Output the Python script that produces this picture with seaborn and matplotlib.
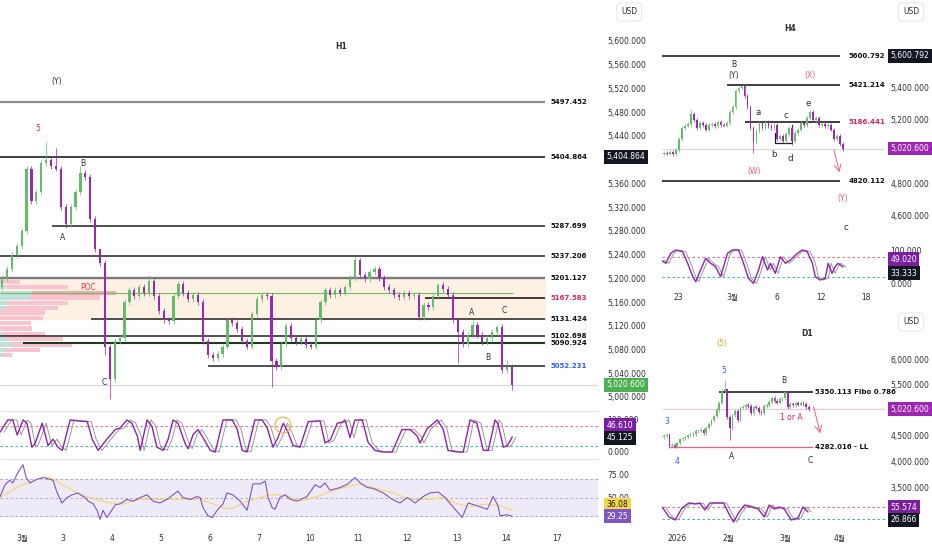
import numpy as np
import pandas as pd
import seaborn as sns
import matplotlib
matplotlib.use("Agg")
import matplotlib.pyplot as plt
from matplotlib.lines import Line2D

sns.set_theme(style="white")
plt.rcParams['font.family'] = ['DejaVu Sans', 'Noto Sans CJK KR']
plt.rcParams['axes.unicode_minus'] = False

# ---------------- data ----------------
# H1 closes (one candle per ~2 hours), first open
h1_open0 = 5185
h1_close = [5200, 5215, 5240, 5255, 5280, 5385, 5330, 5345, 5395, 5400,
            5390, 5385, 5320, 5292, 5320, 5345, 5378, 5370, 5300, 5250,
            5225, 5085, 5030, 5095, 5100, 5160, 5180, 5170, 5185, 5175,
            5195, 5170, 5145, 5130, 5128, 5170, 5190, 5175, 5165, 5172,
            5160, 5095, 5070, 5065, 5072, 5085, 5130, 5125, 5115, 5095,
            5085, 5140, 5165, 5172, 5170, 5060, 5050, 5090, 5120, 5100,
            5092, 5098, 5088, 5085, 5130, 5160, 5180, 5172, 5180, 5175,
            5185, 5200, 5230, 5205, 5198, 5210, 5215, 5200, 5185, 5180,
            5172, 5168, 5176, 5170, 5172, 5135, 5155, 5152, 5170, 5188,
            5182, 5172, 5130, 5110, 5090, 5105, 5122, 5105, 5092, 5100,
            5110, 5118, 5045, 5050, 5020.6]
h1_high = {9: 5430, 11: 5420, 16: 5390, 20: 5232, 30: 5205, 72: 5238, 89: 5192,
           96: 5130, 101: 5122, 103: 5062}
h1_low = {13: 5284, 21: 5070, 22: 4996, 55: 5017, 93: 5057, 104: 5012}
h1_days = ['3월', '3', '4', '5', '6', '7', '10', '11', '12', '13', '14', '17']

h1_levels = [5497.452, 5404.864, 5287.699, 5237.206, 5201.127, 5167.583,
             5131.424, 5102.698, 5090.924, 5052.231]
poc_price = 5175
last_price = 5020.6

# volume profile rows (price, total volume, up volume)
vp_price = [5194, 5185, 5175, 5168, 5158, 5150, 5142, 5133, 5125, 5115,
            5106, 5098, 5088, 5079, 5071]
vp_vol = [20, 68, 116, 100, 68, 58, 45, 43, 31, 32, 45, 63, 72, 40, 12]
vp_up = [0, 5, 32, 30, 8, 5, 0, 0, 0, 0, 3, 6, 12, 4, 2]

# H1 stochastic %K (time in candle units)
stoch_t = [-0.4, 1.2, 2.2, 3.1, 4.3, 5.1, 6.1, 6.7, 8.2, 9.4, 10.4, 11.4, 12.3,
           13.9, 15.5, 17.4, 18.4, 19.6, 21.4, 23.1, 24.1, 25.5, 26.5, 27.6,
           28.2, 29.6, 30.6, 31.6, 32.9, 33.9, 34.9, 35.9, 37.4, 38.0, 39.0,
           40.0, 41.0, 42.5, 43.5, 45.1, 47.0, 48.0, 49.0, 50.0, 51.6, 53.1,
           54.1, 55.3, 56.3, 57.4, 58.4, 59.4, 60.8, 62.5, 64.9, 65.9, 67.0,
           68.4, 69.4, 70.0, 71.0, 72.0, 73.5, 74.7, 76.1, 77.6, 79.6, 81.6,
           83.3, 84.7, 85.3, 86.7, 88.8, 90.0, 91.0, 92.9, 94.1, 95.5, 96.9,
           98.2, 99.2, 100.6, 101.2, 102.3, 103.1, 104.1]
stoch_k = [62, 100, 100, 53, 100, 90, 15, 25, 90, 20, 40, 15, 5,
           100, 97, 95, 40, 5, 40, 70, 75, 100, 90, 50,
           5, 100, 80, 15, 5, 40, 100, 90, 25, 10, 55,
           70, 45, 5, 0, 100, 100, 70, 5, 0, 100, 100,
           75, 15, 45, 90, 60, 20, 15, 95, 97, 28, 38,
           90, 93, 100, 45, 100, 100, 30, 5, 0, 0, 70,
           70, 50, 28, 72, 100, 72, 5, 0, 0, 100, 90,
           5, 5, 100, 88, 15, 20, 46.61]

# H1 RSI and its moving average
rsi_t = [-0.4, 0.6, 1.6, 2.2, 3.3, 4.3, 4.9, 5.7, 7.1, 8.4, 10.4, 11.2, 12.2,
         13.3, 14.3, 15.5, 16.9, 17.6, 18.6, 19.4, 20.0, 20.6, 21.4, 22.4,
         23.1, 24.1, 25.5, 26.7, 28.2, 29.6, 30.8, 32.2, 33.7, 34.9, 35.9,
         36.9, 38.4, 39.8, 40.4, 41.0, 42.0, 42.9, 43.9, 45.1, 45.9, 47.1,
         48.6, 50.0, 51.2, 52.7, 53.7, 54.3, 55.1, 55.7, 56.7, 57.8, 58.8,
         60.2, 62.2, 63.9, 64.9, 65.9, 66.9, 69.0, 70.6, 72.0, 73.1, 74.5,
         75.7, 77.8, 79.6, 81.2, 82.7, 84.3, 85.9, 87.3, 89.0, 90.4, 91.8,
         93.9, 95.1, 96.9, 99.0, 100.2, 101.2, 101.6, 103.1, 104.1]
rsi_v = [51, 64, 69, 66, 78, 86, 72, 66, 70, 72, 69, 56, 44,
         50, 53, 55, 50, 46, 43, 36, 26, 36, 28, 36,
         42, 43, 48, 46, 50, 53, 46, 44, 48, 53, 57,
         50, 48, 51, 50, 39, 30, 28, 36, 43, 55, 53,
         46, 36, 65, 65, 68, 50, 39, 37, 50, 53, 48,
         46, 51, 64, 61, 66, 58, 61, 65, 72, 66, 61,
         60, 55, 48, 44, 50, 44, 51, 55, 56, 50, 41,
         28, 44, 41, 37, 51, 41, 30, 31, 29.25]
rsi_ma_t = [-0.4, 3.7, 8.4, 9.8, 15.9, 22.0, 24.7, 28.2, 40.4, 43.1, 45.5, 47.1,
            50.0, 54.7, 56.7, 58.8, 60.8, 64.9, 66.9, 69.6, 73.1, 75.7, 79.8,
            83.3, 87.3, 90.0, 92.9, 95.5, 99.0, 101.6, 104.1]
rsi_ma_v = [50, 63, 72, 72, 53, 44, 43, 48, 48, 43, 38, 38,
            46, 53, 53, 50, 46, 52, 56, 61, 65, 61, 55,
            48, 48, 50, 43, 40, 43, 41, 36.08]

# H4
h4_open0 = 4990
h4_close = [4995, 4990, 5000, 4985, 5010, 5080, 5150, 5165, 5175, 5240,
            5200, 5150, 5180, 5170, 5140, 5170, 5175, 5160, 5190, 5170,
            5165, 5180, 5250, 5280, 5380, 5400, 5410, 5350, 5280, 5150,
            5060, 5130, 5180, 5150, 5190, 5160, 5150, 5170, 5080, 5100,
            5070, 5110, 5150, 5070, 5120, 5140, 5180, 5170, 5210, 5250,
            5200, 5210, 5170, 5175, 5160, 5170, 5140, 5080, 5100, 5050,
            5020.6]
h4_high = {9: 5262, 25: 5415, 26: 5421, 49: 5262}
h4_low = {30: 4995, 43: 5045}
h4_days = ['23', '3월', '6', '12', '18']
h4_levels = [5600.792, 5421.214, 5186.441, 4820.112]
h4_stoch_t = [-1, 0.7, 2.3, 4, 6.3, 8, 9.7, 10.7, 12.3, 14, 15.7, 17.3, 19,
              21.3, 23, 25, 26.7, 28.3, 30, 31.7, 33, 34.7, 35.7, 37.3, 39,
              40.7, 42.3, 44.7, 46.3, 48, 49.7, 50.7, 52.3, 54, 55, 56.3, 57.3,
              58.3, 60]
h4_stoch_k = [70, 60, 90, 100, 95, 60, 20, 5, 40, 75, 60, 50, 20,
              90, 100, 100, 60, 15, 0, 40, 80, 40, 60, 30, 80,
              60, 70, 90, 100, 95, 60, 20, 10, 15, 60, 30, 50,
              60, 49.02]

# D1
d1_open0 = 4480
d1_close = [4500, 4520, 4300, 4320, 4290, 4350, 4430, 4450, 4470, 4510,
            4540, 4530, 4590, 4600, 4610, 4560, 4660, 4730, 4800, 4880,
            5000, 5150, 5380, 5410, 4870, 4650, 4900, 4980, 4800, 5050,
            5060, 5100, 5080, 4950, 5060, 5050, 4960, 4950, 5080, 5100,
            5170, 5240, 5180, 5150, 5220, 5230, 5350, 5060, 5120, 5100,
            5140, 5110, 5150, 5120, 5060, 5020.6]
d1_high = {23: 5590, 24: 5420, 46: 5400}
d1_low = {3: 4280, 4: 4270, 25: 4420}
d1_months = ['2026', '2월', '3월', '4월']
d1_levels = [5350.113, 4282.016]
d1_stoch_t = [-0.75, 1.9, 4.2, 6.8, 9.4, 11.8, 13.6, 15.5, 17.4, 20.8, 22.6,
              24.5, 26.4, 28.3, 30.6, 33.2, 35.8, 38.1, 40, 41.9, 43.8, 45.7,
              48.3, 50.9, 52.8, 54.7]
d1_stoch_k = [80, 30, 15, 75, 100, 95, 100, 65, 100, 100, 100,
              50, 5, 50, 90, 80, 70, 30, 90, 70, 80, 70,
              15, 25, 80, 55.57]

# ---------------- styling ----------------
UP, DOWN = '#66bb6a', '#9c27b0'
FS = 5.5
TXT = '#2a2e39'
W, H = 932, 550
fig = plt.figure(figsize=(W / 100, H / 100), dpi=100)
fig.patch.set_facecolor('white')


def add_ax(x0, y0, x1, y1):
    a = fig.add_axes([x0 / W, 1 - y1 / H, (x1 - x0) / W, (y1 - y0) / H])
    for s in a.spines.values():
        s.set_visible(False)
    a.set_facecolor('none')
    a.yaxis.tick_right()
    a.tick_params(axis='both', length=0, labelsize=FS, colors=TXT)
    a.set_xticks([])
    return a


def candles(ax, closes, open0, hi, lo, width, wick):
    c = np.array(closes, float)
    o = np.r_[open0, c[:-1]]
    x = np.arange(len(c))
    top = np.maximum(o, c)
    bot = np.minimum(o, c)
    highs = top + wick
    lows = bot - wick
    for i, v in hi.items():
        highs[i] = v
    for i, v in lo.items():
        lows[i] = v
    cols = np.where(c >= o, UP, DOWN)
    ax.vlines(x, lows, highs, colors=cols, lw=0.5, zorder=3)
    ax.bar(x, np.maximum(top - bot, wick * 0.3), bottom=bot, width=width,
           color=cols, linewidth=0, zorder=3)


def tag(ax, y, text, fc, tc='white', dx=6.3):
    ax.annotate(text, xy=(1, y), xycoords=ax.get_yaxis_transform(),
                xytext=(dx, 0), textcoords='offset points', va='center', ha='left',
                fontsize=FS, color=tc, annotation_clip=False, zorder=10,
                bbox=dict(boxstyle='square,pad=0.3', fc=fc, ec='none'))


def stoch_panel(ax, t, k, lag):
    ax.axhline(80, color='#f7525f', lw=0.6, ls=(0, (3, 3)))
    ax.axhline(20, color='#22ab94', lw=0.6, ls=(0, (3, 3)))
    sns.lineplot(x=np.array(t) + lag, y=k, ax=ax, color='#9a9a9a', lw=0.7,
                 estimator=None, sort=False)
    sns.lineplot(x=t, y=k, ax=ax, color='#8e24aa', lw=1.0, estimator=None, sort=False)
    ax.set_xlabel('')
    ax.set_ylabel('')


def usd(x, y):
    fig.text(x / W, 1 - y / H, 'USD', ha='center', va='center', fontsize=FS, color=TXT,
             bbox=dict(boxstyle='round,pad=0.6', fc='white', ec='#e0e3eb', lw=0.6))


def sep(y, x0, x1):
    fig.add_artist(Line2D([x0 / W, x1 / W], [1 - y / H, 1 - y / H], color='#e0e3eb', lw=0.8))


# ================= H1 main panel =================
ax_p = add_ax(0, 0, 598, 410)
ax_s = add_ax(0, 411, 598, 458)
ax_r = add_ax(0, 459, 598, 524)
h1_xlim = (-0.41, 121.6)
for a in (ax_p, ax_s, ax_r):
    a.set_xlim(*h1_xlim)
    a.yaxis.set_tick_params(pad=6.5)
ax_p.set_ylim(4978, 5669)
ax_s.set_ylim(-18.75, 128)
ax_r.set_ylim(20.9, 92.3)

# shaded zone and volume profile
ax_p.fill_between([-0.41, 110.8], h1_levels[6], h1_levels[4], color='#fdf1e3', zorder=0)
vp_scale = 1 / 4.9
ax_p.barh(vp_price, np.array(vp_vol) * vp_scale, left=-0.41, height=7.6,
          color='#f8c4cf', linewidth=0, zorder=1)
ax_p.barh(vp_price[2], vp_vol[2] * vp_scale, left=-0.41, height=7.6,
          color='#f4a9b4', linewidth=0, zorder=1)
ax_p.barh(vp_price, np.array(vp_up) * vp_scale, left=-0.41, height=7.6,
          color='#bfe3dc', linewidth=0, zorder=1)

line_start = [-0.41, -0.41, 10.2, -0.41, -0.41, 86.3, 18.2, -0.41, 4.3, 42.0]
line_col = ['#8c8c8c', '#303030', '#202020', '#202020', '#7a7a7a', '#303030',
            '#202020', '#202020', '#1e3b1e', '#202020']
line_lw = [1.6, 1.3, 1.1, 1.1, 1.7, 1.3, 1.1, 1.1, 1.5, 1.1]
lab_col = ['#111111'] * 5 + ['#e0245e'] + ['#111111'] * 3 + ['#2962ff']
ax_p.hlines(last_price, *h1_xlim, color='#d6d8de', lw=0.8, zorder=2)
ax_p.hlines(poc_price, -0.41, 104.3, color='#6fbf5f', lw=0.8, zorder=2)
for lv, x0, c, lw, lc in zip(h1_levels, line_start, line_col, line_lw, lab_col):
    ax_p.hlines(lv, x0, 110.8, color=c, lw=lw, zorder=2)
    ax_p.text(111.9, lv, f'{lv:.3f}', fontsize=5, fontweight='bold', color=lc,
              va='center', ha='left')

candles(ax_p, h1_close, h1_open0, h1_high, h1_low, 0.45, 5)

main_ticks = [v for v in range(5000, 5601, 40) if v != 5400]
ax_p.set_yticks(main_ticks)
ax_p.set_yticklabels([f'{v:,.3f}' for v in main_ticks])
tag(ax_p, 5404.864, '5,404.864', '#131722')
tag(ax_p, last_price, '5,020.600', '#4caf50')

for tx, x, y, c in [('H1', 69.2, 5591, TXT), ('(Y)', 11.2, 5532, TXT), ('5', 7.3, 5453, '#e53935'),
                    ('B', 16.5, 5394, TXT), ('A', 12.4, 5268, TXT), ('POC', 17.6, 5184, '#e53950'),
                    ('C', 20.8, 5024, TXT), ('A', 95.9, 5142, TXT), ('C', 102.4, 5145, TXT),
                    ('B', 99.2, 5067, TXT)]:
    ax_p.text(x, y, tx, fontsize=FS, color=c, ha='center', va='center',
              fontweight='bold' if tx == 'H1' else 'normal', zorder=6)

# stochastic
stoch_panel(ax_s, stoch_t, stoch_k, 0.8)
ax_s.scatter([57.3], [84], s=130, facecolors='none', edgecolors='#f5b041', lw=0.8, zorder=5)
ax_s.set_yticks([0, 100])
ax_s.set_yticklabels(['0.000', '100.000'])
tag(ax_s, 84, '46.610', '#7b1fa2')
tag(ax_s, 44, '45.125', '#131722')

# RSI
ax_r.axhspan(30, 70, color='#efeaf8', zorder=0)
for lv in (30, 50, 70):
    ax_r.axhline(lv, color='#a0a3ad', lw=0.6, ls=(0, (3, 3)))
sns.lineplot(x=rsi_ma_t, y=rsi_ma_v, ax=ax_r, color='#f5d77a', lw=0.9, estimator=None, sort=False)
sns.lineplot(x=rsi_t, y=rsi_v, ax=ax_r, color='#7e57c2', lw=0.8, estimator=None, sort=False)
ax_r.set_xlabel('')
ax_r.set_ylabel('')
ax_r.set_yticks([50, 75])
ax_r.set_yticklabels(['50.00', '75.00'])
tag(ax_r, 42.5, '36.08', '#f7d64a', tc='#131722')
tag(ax_r, 29.5, '29.25', '#7e57c2')
h1_tick_pos = [4.1, 12.4, 22.4, 32.4, 42.4, 52.4, 62.9, 72.7, 82.7, 92.9, 102.9, 113.3]
ax_r.set_xticks(h1_tick_pos)
ax_r.set_xticklabels(h1_days)
ax_r.tick_params(axis='x', pad=7, labelsize=FS, colors=TXT)
sep(411, 0, 598)
sep(458.5, 0, 598)
usd(629, 12)

# ================= H4 panel =================
ax_h = add_ax(662, 0, 885, 242)
ax_hs = add_ax(662, 243, 885, 289)
for a in (ax_h, ax_hs):
    a.set_xlim(-0.6, 74)
    a.yaxis.set_tick_params(pad=4)
ax_h.set_ylim(4437, 5950)
ax_hs.set_ylim(-17, 121)
ax_h.hlines(last_price, -0.6, 74, color='#d6d8de', lw=0.8)
h4_start = [-1, 21.3, 27.3, -1]
h4_lab = ['#111111', '#111111', '#e0245e', '#111111']
for lv, x0, lc in zip(h4_levels, h4_start, h4_lab):
    ax_h.hlines(lv, x0, 59, color='#202020', lw=1.2)
    ax_h.text(61.7, lv, f'{lv:.3f}', fontsize=5, fontweight='bold', color=lc, va='center')
ax_h.plot([37.3, 37.3, 43, 43], [5119, 5057, 5057, 5169], color='#202020', lw=0.9)
candles(ax_h, h4_close, h4_open0, h4_high, h4_low, 0.6, 12)
ax_h.annotate('', xy=(59, 4856), xytext=(56.7, 5031),
              arrowprops=dict(arrowstyle='->', color='#ef5f7f', lw=0.7))
for tx, x, y, c in [('H4', 42.3, 5769, TXT), ('B', 23.3, 5544, TXT), ('(Y)', 23.3, 5475, TXT),
                    ('(X)', 49, 5481, '#ef5f7f'), ('a', 31.7, 5244, TXT), ('c', 41, 5231, TXT),
                    ('e', 48.3, 5306, TXT), ('b', 36.7, 4981, TXT), ('d', 42.3, 4956, TXT),
                    ('(W)', 30.3, 4875, '#ef5f7f'), ('(Y)', 60, 4706, '#ef5f7f'),
                    ('c', 61, 4525, TXT)]:
    ax_h.text(x, y, tx, fontsize=FS + (0.8 if tx in 'abcde' else 0), color=c,
              ha='center', va='center', fontweight='bold' if tx == 'H4' else 'normal')
h4_ticks = [4600, 4800, 5200, 5400]
ax_h.set_yticks(h4_ticks)
ax_h.set_yticklabels([f'{v:,.3f}' for v in h4_ticks])
tag(ax_h, 5600.792, '5,600.792', '#131722', dx=4)
tag(ax_h, last_price, '5,020.600', '#9c27b0', dx=4)

stoch_panel(ax_hs, h4_stoch_t, h4_stoch_k, 1.0)
ax_hs.set_yticks([0, 100])
ax_hs.set_yticklabels(['0.000', '100.000'])
tag(ax_hs, 73, '49.020', '#7b1fa2', dx=4)
tag(ax_hs, 31, '33.333', '#131722', dx=4)
ax_hs.set_xticks([5, 23, 37.7, 52.7, 67.7])
ax_hs.set_xticklabels(h4_days)
ax_hs.tick_params(axis='x', pad=3, labelsize=FS, colors=TXT)
usd(911, 12)

# ================= D1 panel =================
ax_d = add_ax(662, 303, 885, 497)
ax_ds = add_ax(662, 498, 885, 530)
for a in (ax_d, ax_ds):
    a.set_xlim(-0.8, 84)
    a.yaxis.set_tick_params(pad=4)
ax_d.set_ylim(3305, 7094)
ax_ds.set_ylim(-35, 125)
ax_d.hlines(last_price, -0.8, 84, color='#f3c6d3', lw=0.8)
ax_d.hlines(d1_levels[0], 20.8, 56.6, color='#202020', lw=1.2)
ax_d.hlines(d1_levels[1], 1.9, 56.6, color='#ef5f7f', lw=0.9)
ax_d.text(57.2, d1_levels[0], f'{d1_levels[0]:.3f} Fibo 0.786', fontsize=5, fontweight='bold',
          color='#111111', va='center')
ax_d.text(57.2, d1_levels[1], f'{d1_levels[1]:.3f} - LL', fontsize=5, fontweight='bold',
          color='#111111', va='center')
candles(ax_d, d1_close, d1_open0, d1_high, d1_low, 0.65, 35)
ax_d.annotate('', xy=(59.6, 4496), xytext=(56.6, 5121),
              arrowprops=dict(arrowstyle='->', color='#ef5f7f', lw=0.7))
for tx, x, y, c in [('D1', 54.3, 6508, TXT), ('(5)', 21.9, 6312, '#f0a020'), ('5', 22.6, 5766, '#2962ff'),
                    ('3', 1.1, 4770, '#2962ff'), ('4', 4.9, 4008, '#2962ff'), ('A', 25.7, 4105, TXT),
                    ('B', 45.7, 5590, TXT), ('1 or A', 48.3, 4848, '#e0245e'), ('C', 55.5, 4027, TXT)]:
    ax_d.text(x, y, tx, fontsize=FS, color=c, ha='center', va='center',
              fontweight='bold' if tx == 'D1' else 'normal')
d1_ticks = [3500, 4000, 4500, 5500, 6000]
ax_d.set_yticks(d1_ticks)
ax_d.set_yticklabels([f'{v:,.3f}' for v in d1_ticks])
tag(ax_d, last_price, '5,020.600', '#9c27b0', dx=4)

stoch_panel(ax_ds, d1_stoch_t, d1_stoch_k, 1.2)
ax_ds.set_yticks([])
tag(ax_ds, 80, '55.574', '#7b1fa2', dx=4)
tag(ax_ds, 15, '26.866', '#131722', dx=4)
ax_ds.set_xticks([4.9, 24.5, 46, 66.8])
ax_ds.set_xticklabels(d1_months)
ax_ds.tick_params(axis='x', pad=3, labelsize=FS, colors=TXT)
usd(911, 322)

fig.savefig('out.png', dpi=100)
